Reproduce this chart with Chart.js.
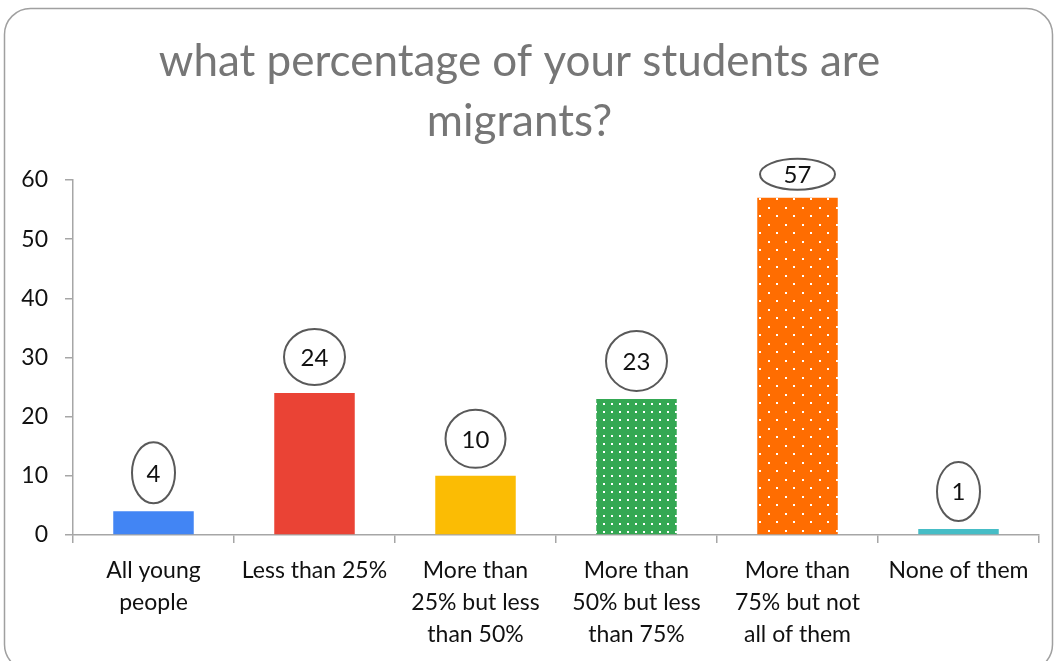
<!DOCTYPE html>
<html>
<head>
<meta charset="utf-8">
<script src="https://cdn.jsdelivr.net/npm/chart.js@4.4.1/dist/chart.umd.min.js"></script>
<style>
    html, body { margin: 0; padding: 0; background: #fff; }
    #wrap { width: 1057px; height: 661px; }
</style>
</head>
<body>
<div id="wrap"><canvas id="chart"></canvas></div>
<script>
// answers and counts
const categories = [
    ['All young', 'people'],
    ['Less than 25%'],
    ['More than', '25% but less', 'than 50%'],
    ['More than', '50% but less', 'than 75%'],
    ['More than', '75% but not', 'all of them'],
    ['None of them']
];
const counts = [4, 24, 10, 23, 57, 1];
const yTicks = [0, 10, 20, 30, 40, 50, 60];

// bubble sizes [w, h] for the value callouts
const bubbleSize = [[43, 61], [61, 56], [60, 58], [61, 60], [75, 31], [43, 59]];

function dotPattern(color, size, dots) {
    const c = document.createElement('canvas');
    c.width = size;
    c.height = size;
    const g = c.getContext('2d');
    g.fillStyle = color;
    g.fillRect(0, 0, size, size);
    g.fillStyle = '#ffffff';
    dots.forEach(d => g.fillRect(d[0], d[1], 2, 2));
    return g.createPattern(c, 'repeat');
}

const ctx = document.getElementById('chart').getContext('2d');
const greenDots = dotPattern('#34A853', 8, [[3, 3]]);
const orangeDots = dotPattern('#FF6D01', 17, [[3, 3], [11, 11]]);

const frame = {
    id: 'frame',
    beforeDraw(chart) {
        const g = chart.ctx;
        g.save();
        g.strokeStyle = '#a0a0a0';
        g.lineWidth = 1.5;
        g.beginPath();
        g.roundRect(4.5, 8.5, 1048, 662, 26);
        g.stroke();
        g.restore();
    }
};

const callouts = {
    id: 'callouts',
    afterDatasetsDraw(chart) {
        const g = chart.ctx;
        const meta = chart.getDatasetMeta(0);
        g.save();
        meta.data.forEach((bar, i) => {
            const [w, h] = bubbleSize[i];
            const cx = bar.x;
            const cy = bar.y - 8 - h / 2;
            g.beginPath();
            g.ellipse(cx, cy, w / 2, h / 2, 0, 0, Math.PI * 2);
            g.fillStyle = '#ffffff';
            g.fill();
            g.lineWidth = 2;
            g.strokeStyle = '#595959';
            g.stroke();
            g.fillStyle = '#111';
            g.font = '24px Lato';
            g.textAlign = 'center';
            g.textBaseline = 'middle';
            g.fillText(String(counts[i]), cx, cy + 1);
        });
        g.restore();
    }
};

new Chart(ctx, {
    type: 'bar',
    data: {
        labels: categories,
        datasets: [{
            data: counts,
            backgroundColor: ['#4285F4', '#EA4335', '#FBBC04', greenDots, orangeDots, '#46BDC6'],
            borderWidth: 0,
            categoryPercentage: 0.5,
            barPercentage: 1.0
        }]
    },
    options: {
        responsive: true,
        maintainAspectRatio: false,
        animation: false,
        layout: { padding: { left: 0, right: 18, top: 0, bottom: 0 } },
        plugins: {
            legend: { display: false },
            tooltip: { enabled: false },
            title: {
                display: true,
                text: ['what percentage of your students are', 'migrants?'],
                color: '#767676',
                font: { family: 'Lato', size: 44, weight: 'normal', lineHeight: 1.364 },
                padding: { top: 32, bottom: 28 }
            }
        },
        scales: {
            x: {
                grid: {
                    display: true,
                    drawOnChartArea: false,
                    drawTicks: true,
                    tickLength: 8,
                    color: '#a6a6a6',
                    lineWidth: 1.5
                },
                border: { color: '#a6a6a6', width: 1.5 },
                ticks: {
                    color: '#111',
                    padding: 12,
                    maxRotation: 0,
                    autoSkip: false,
                    font: { family: 'Lato', size: 23, lineHeight: 1.39 }
                },
                afterFit(scale) { scale.height = 126; }
            },
            y: {
                min: 0,
                max: 60,
                afterBuildTicks(scale) { scale.ticks = yTicks.map(v => ({ value: v })); },
                grid: {
                    display: true,
                    drawOnChartArea: false,
                    drawTicks: true,
                    tickLength: 8,
                    color: '#a6a6a6',
                    lineWidth: 1.5
                },
                border: { color: '#a6a6a6', width: 1.5 },
                ticks: {
                    color: '#111',
                    padding: 17,
                    font: { family: 'Lato', size: 23 }
                },
                afterFit(scale) { scale.width = 73; }
            }
        }
    },
    plugins: [frame, callouts]
});
</script>
</body>
</html>
